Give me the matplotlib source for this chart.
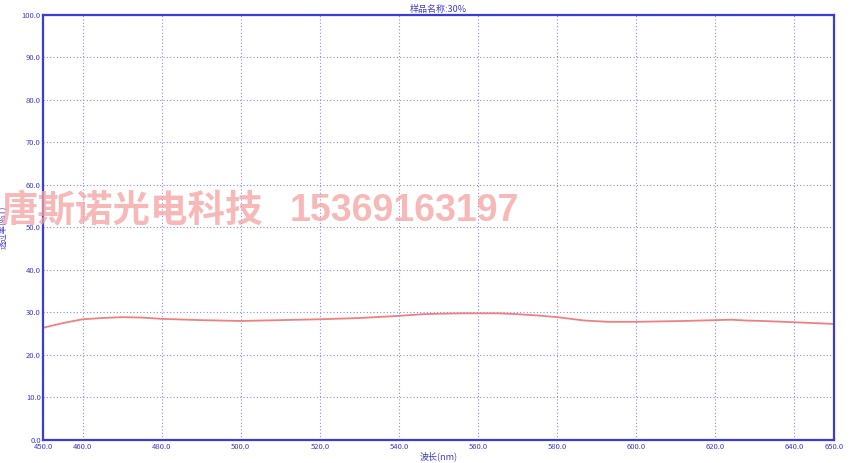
import matplotlib
matplotlib.use("Agg")
import matplotlib.pyplot as plt

plt.rcParams['font.family'] = ['Noto Sans CJK SC', 'DejaVu Sans']

# 透过率曲线
wavelength = [450, 455, 460, 465, 470, 475, 480, 490, 500, 510, 520, 530, 540, 546,
              550, 556, 560, 565, 570, 575, 580, 587, 593, 600, 606, 612, 620, 624,
              628, 632, 640, 645, 650]
transmit = [26.4, 27.5, 28.4, 28.7, 28.9, 28.8, 28.5, 28.2, 28.0, 28.2, 28.4, 28.7, 29.2, 29.6,
            29.7, 29.8, 29.8, 29.8, 29.6, 29.3, 28.9, 28.1, 27.8, 27.8, 27.9, 28.0, 28.2, 28.3,
            28.1, 28.0, 27.7, 27.5, 27.3]
x_ticks = [450, 460, 480, 500, 520, 540, 560, 580, 600, 620, 640, 650]
y_ticks = [0, 10, 20, 30, 40, 50, 60, 70, 80, 90, 100]

blue = "#3b3bd6"
fig = plt.figure(figsize=(8.5, 4.63), dpi=100)
ax = fig.add_axes([0.0506, 0.0497, 0.9306, 0.918])

ax.plot(wavelength, transmit, color="#f08080", lw=1.3)
ax.set_xlim(450, 650)
ax.set_ylim(0, 100)
ax.set_xticks(x_ticks)
ax.set_yticks(y_ticks)
ax.set_xticklabels([f"{v:.1f}" for v in x_ticks])
ax.set_yticklabels([f"{v:.1f}" for v in y_ticks])
ax.tick_params(colors=blue, labelsize=5.5, length=0)
ax.tick_params(axis="x", pad=2.5)
ax.tick_params(axis="y", pad=1.5)
ax.grid(True, linestyle=(0, (1, 2)), color="#8c8cf0", lw=0.8)
for s in ax.spines.values():
    s.set_color(blue)
    s.set_linewidth(1.6)

ax.set_title("样品名称:30%", fontsize=6.5, color=blue, pad=2)
ax.set_xlabel("波长(nm)", fontsize=6.5, color=blue, labelpad=0)
ax.set_ylabel("透过率(%T)", fontsize=6, color=blue, labelpad=10)

# 水印
fig.text(0.0, 1 - 211 / 463, "唐斯诺光电科技", fontsize=27, fontweight="bold",
         color="#f5a0a0", alpha=0.75, va="center", ha="left")
fig.text(290 / 850, 1 - 211 / 463, "15369163197", fontsize=27, fontweight="bold",
         family="Liberation Sans", color="#f5a0a0", alpha=0.75, va="center", ha="left")

fig.savefig("out.png", dpi=100)
